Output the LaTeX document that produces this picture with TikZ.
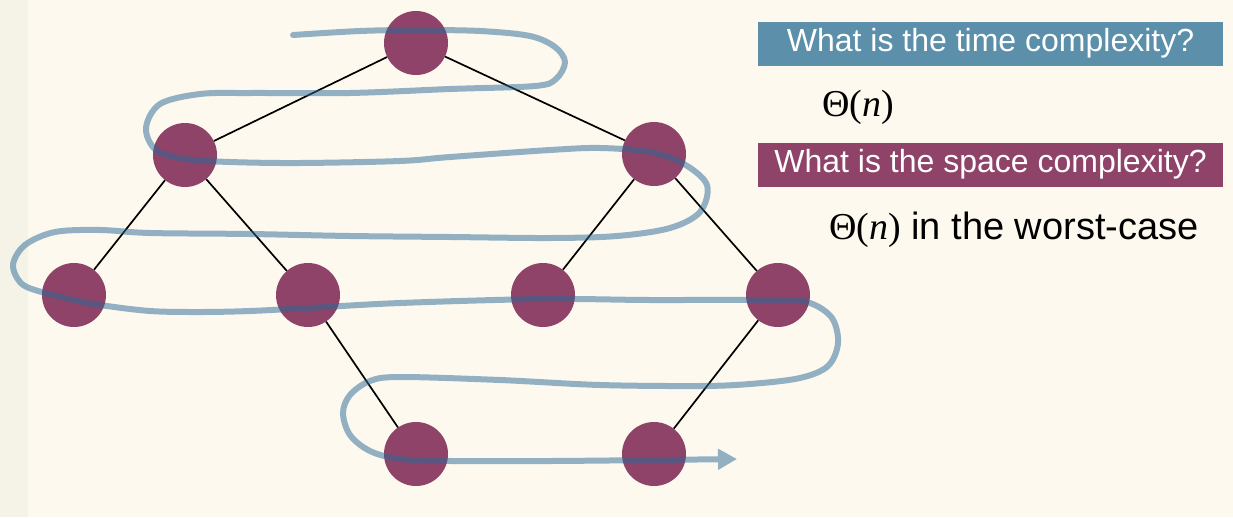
\documentclass[tikz,border=0pt]{standalone}
\usepackage{fontspec}
\setmainfont{Liberation Sans}
\newfontfamily\serifmath{Liberation Serif}
\usetikzlibrary{arrows.meta}
\definecolor{cream}{RGB}{253,249,239}
\definecolor{stripcol}{RGB}{245,242,232}
\definecolor{plum}{RGB}{143,67,104}
\definecolor{steel}{RGB}{92,143,170}
\definecolor{trailcol}{RGB}{40,105,150}
\begin{document}
\begin{tikzpicture}[x=1pt,y=-1pt,
  tnode/.style={circle,fill=plum,minimum size=64pt,inner sep=0pt},
  treeedge/.style={draw=black,line width=1.7pt},
  qbox/.style={fill=#1,text=white,minimum width=465pt,minimum height=44pt,inner sep=0pt,font=\fontsize{32}{36}\selectfont},
  ans/.style={anchor=base west,inner sep=0pt,font=\fontsize{38}{42}\selectfont},
  trailline/.style={line width=6pt,draw=trailcol,line cap=round,-{Triangle[length=19pt,width=20pt]}}
]
\useasboundingbox (0,0) rectangle (1233,517);
\fill[cream] (0,0) rectangle (1233,517);
\fill[stripcol] (0,0) rectangle (28,517);

% tree nodes
\node[tnode] (r)   at (416,43)  {};
\node[tnode] (a)   at (185,155) {};
\node[tnode] (b)   at (654,154) {};
\node[tnode] (aa)  at (74,295)  {};
\node[tnode] (ab)  at (308,295) {};
\node[tnode] (ba)  at (543,295) {};
\node[tnode] (bb)  at (778,295) {};
\node[tnode] (aba) at (416,454) {};
\node[tnode] (bbb) at (654,454) {};

\draw[treeedge] (r) -- (a);
\draw[treeedge] (r) -- (b);
\draw[treeedge] (a) -- (aa);
\draw[treeedge] (a) -- (ab);
\draw[treeedge] (b) -- (ba);
\draw[treeedge] (b) -- (bb);
\draw[treeedge] (ab) -- (aba);
\draw[treeedge] (bb) -- (bbb);

% traversal trail
\coordinate (trailstart) at (293,35);
\coordinate (trailend) at (737,459);
\begin{scope}[transparency group,opacity=0.5]
\draw[trailline] plot[smooth,tension=0.55] coordinates {
  (trailstart) (360,31) (416,30) (480,31) (530,36) (555,47) (565,62) (556,79) (535,86)
  (450,89) (350,93) (250,93) (200,94) (160,104) (146,128) (156,150) (185,159) (230,162)
  (300,163) (400,161) (450,157) (550,150) (600,148) (650,152) (684,164) (707,185)
  (700,212) (670,228) (617,236) (550,238) (450,237) (350,236) (250,234) (150,233)
  (100,230) (55,232) (25,245) (13,265) (22,284) (45,293) (74,300) (100,305) (150,311)
  (200,312) (250,311) (308,308) (400,303) (543,299) (650,300) (778,300) (810,303)
  (832,318) (838,343) (828,366) (800,378) (750,384) (700,386) (600,385) (500,380)
  (400,377) (370,381) (350,395) (343,413) (350,435) (370,451) (400,459) (450,461)
  (550,461) (654,460) (trailend)};
\end{scope}

% questions and answers
\node[qbox=steel] (q1) at (990.5,43.5) {What is the time complexity?};
\node[ans] (a1) at (822,116) {\serifmath Θ(\textit{n})};
\node[qbox=plum] (q2) at (990.5,164.5) {What is the space complexity?};
\node[ans] (a2) at (829,239) {{\serifmath Θ(\textit{n})} in the worst-case};
\end{tikzpicture}
\end{document}
